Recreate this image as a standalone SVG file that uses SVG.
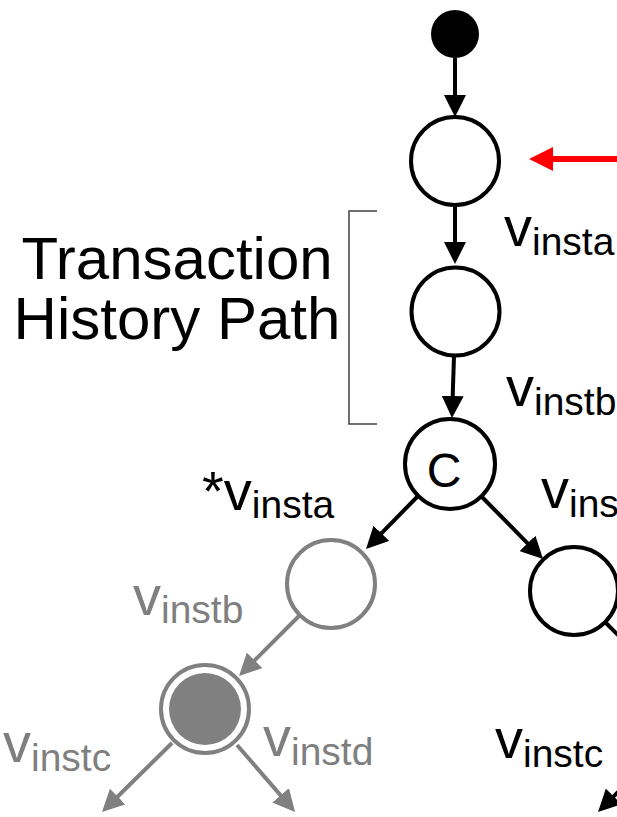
<svg xmlns="http://www.w3.org/2000/svg" width="617" height="817" viewBox="0 0 617 817">
  <style>
    .node { fill: #ffffff; stroke: #000000; stroke-width: 4; }
    .node-gray { fill: #ffffff; stroke: #808080; stroke-width: 4; }
    .edge { fill: none; stroke: #000000; stroke-width: 4; marker-end: url(#arrow-black); }
    .edge-gray { fill: none; stroke: #808080; stroke-width: 4; marker-end: url(#arrow-gray); }
    .edge-plain { fill: none; stroke: #000000; stroke-width: 4; }
    .edge-red { fill: none; stroke: #ff0000; stroke-width: 6; marker-end: url(#arrow-red); }
    text { font-family: "Liberation Sans", Arial, sans-serif; }
    .lbl { font-size: 56px; fill: #000000; }
    .lbl-gray { font-size: 56px; fill: #7f7f7f; }
    .sub { font-size: 39px; }
    .title { font-size: 60px; fill: #000000; text-anchor: middle; }
    .bracket { fill: none; stroke: #404040; stroke-width: 1.5; }
  </style>
  <defs>
    <marker id="arrow-black" markerUnits="userSpaceOnUse" markerWidth="22" markerHeight="22" refX="12" refY="11" orient="auto">
      <path d="M0,0 L22,11 L0,22 z" fill="#000000"/>
    </marker>
    <marker id="arrow-gray" markerUnits="userSpaceOnUse" markerWidth="22" markerHeight="22" refX="12" refY="11" orient="auto">
      <path d="M0,0 L22,11 L0,22 z" fill="#808080"/>
    </marker>
    <marker id="arrow-red" markerUnits="userSpaceOnUse" markerWidth="24" markerHeight="24" refX="14" refY="12" orient="auto">
      <path d="M0,0 L24,12 L0,24 z" fill="#ff0000"/>
    </marker>
  </defs>

  <rect width="617" height="817" fill="#ffffff"/>

  <!-- connectors -->
  <g id="connectors">
    <line class="edge" x1="455" y1="58" x2="455" y2="107"/>
    <line class="edge" x1="455" y1="205" x2="455" y2="254"/>
    <line class="edge" x1="454" y1="356" x2="452.3" y2="408"/>
    <line class="edge" x1="418" y1="496" x2="373" y2="541.9"/>
    <line class="edge" x1="481" y1="496" x2="536" y2="551.9"/>
    <line class="edge-gray" x1="300" y1="615" x2="246.1" y2="668.9"/>
    <line class="edge-gray" x1="172" y1="743" x2="109.1" y2="805"/>
    <line class="edge-gray" x1="237" y1="745" x2="288.5" y2="804.4"/>
    <line class="edge-plain" x1="605" y1="622" x2="665" y2="682"/>
    <line class="edge" x1="660" y1="750" x2="605.1" y2="804.9"/>
    <line class="edge-red" x1="640" y1="159" x2="539" y2="159"/>
  </g>

  <!-- nodes -->
  <g id="start">
    <circle cx="455" cy="34" r="24" fill="#000000"/>
  </g>
  <g id="node-1">
    <circle class="node" cx="455" cy="161" r="44"/>
  </g>
  <g id="node-2">
    <circle class="node" cx="455.5" cy="311.5" r="44"/>
  </g>
  <g id="node-c">
    <circle class="node" cx="450" cy="464" r="45"/>
    <text x="444" y="487" font-size="48" text-anchor="middle">C</text>
  </g>
  <g id="node-right">
    <circle class="node" cx="574" cy="591" r="44"/>
  </g>
  <g id="node-gray">
    <circle class="node-gray" cx="331" cy="584" r="44"/>
  </g>
  <g id="node-final">
    <circle class="node-gray" cx="205" cy="709" r="44"/>
    <circle cx="205" cy="709" r="36" fill="#808080"/>
  </g>

  <!-- path bracket and caption -->
  <g id="history-path">
    <polyline class="bracket" points="377,211 349,211 349,424 377,424"/>
    <text class="title"><tspan x="177" y="279">Transaction</tspan><tspan x="177" dy="60">History Path</tspan></text>
  </g>

  <!-- edge labels -->
  <g id="labels">
    <text class="lbl" x="504" y="246">v<tspan class="sub" dy="9">insta</tspan></text>
    <text class="lbl" x="506" y="406">v<tspan class="sub" dy="9">instb</tspan></text>
    <text class="lbl" x="202" y="510">*v<tspan class="sub" dy="8">insta</tspan></text>
    <text class="lbl" x="541" y="508">v<tspan class="sub" dy="9">ins</tspan></text>
    <text class="lbl-gray" x="133" y="615">v<tspan class="sub" dy="8">instb</tspan></text>
    <text class="lbl-gray" x="3" y="762">v<tspan class="sub" dy="9">instc</tspan></text>
    <text class="lbl-gray" x="263" y="756">v<tspan class="sub" dy="9">instd</tspan></text>
    <text class="lbl" x="495" y="758">v<tspan class="sub" dy="9">instc</tspan></text>
  </g>
</svg>
